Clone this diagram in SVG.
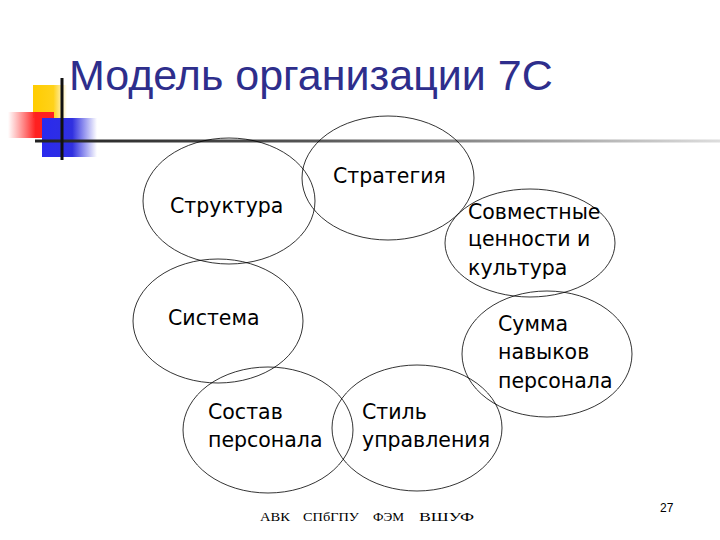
<svg xmlns="http://www.w3.org/2000/svg" width="720" height="540" viewBox="0 0 720 540">
<defs>
<linearGradient id="gy" x1="0" y1="0" x2="1" y2="0"><stop offset="0" stop-color="#ffcc00"/><stop offset="0.6" stop-color="#ffd21a"/><stop offset="1" stop-color="#ffd21a" stop-opacity="0"/></linearGradient>
<linearGradient id="gr" x1="0" y1="0" x2="1" y2="0"><stop offset="0" stop-color="#ff3030" stop-opacity="0"/><stop offset="0.6" stop-color="#ff2020"/><stop offset="1" stop-color="#ff2020"/></linearGradient>
<linearGradient id="gb" x1="0" y1="0" x2="1" y2="0"><stop offset="0" stop-color="#2a2aee"/><stop offset="0.55" stop-color="#3030e0"/><stop offset="1" stop-color="#3030e0" stop-opacity="0"/></linearGradient>
<linearGradient id="gl" x1="0" y1="0" x2="1" y2="0"><stop offset="0" stop-color="#222"/><stop offset="0.4" stop-color="#555"/><stop offset="1" stop-color="#ddd"/></linearGradient>
</defs>
<style>
.e{fill:none;stroke:#000;stroke-width:0.8}
.t{font-family:"DejaVu Sans",Verdana,sans-serif;font-size:20.5px;fill:#000}
.f{font-family:"Liberation Serif","Times New Roman",serif;font-size:13px;fill:#000}
</style>
<rect width="720" height="540" fill="#fff"/>
<g id="decor">
<rect x="33" y="85" width="34" height="33" fill="url(#gy)"/>
<rect x="8" y="112" width="46" height="26" fill="url(#gr)"/>
<rect x="42" y="118" width="55" height="39" fill="url(#gb)"/>
<rect x="35" y="139.5" width="685" height="3" fill="url(#gl)"/>
<rect x="60.5" y="78" width="3" height="82" fill="#111"/>
</g>
<text x="69" y="90" font-family="'Liberation Sans',Arial,sans-serif" font-size="43" fill="#2e2e8c">Модель организации 7С</text>
<g id="connectors"></g>
<g id="struktura"><ellipse class="e" cx="229" cy="201" rx="86" ry="63"/><text class="t" x="170" y="213">Структура</text></g>
<g id="strategiya"><ellipse class="e" cx="388" cy="178" rx="86" ry="62"/><text class="t" x="333" y="183">Стратегия</text></g>
<g id="tsennosti"><ellipse class="e" cx="530" cy="243" rx="85" ry="54"/><text class="t" x="468" y="219">Совместные</text><text class="t" x="468" y="246">ценности и</text><text class="t" x="468" y="275">культура</text></g>
<g id="sistema"><ellipse class="e" cx="218" cy="321" rx="85" ry="62"/><text class="t" x="168" y="325">Система</text></g>
<g id="navyki"><ellipse class="e" cx="547" cy="354" rx="85" ry="63"/><text class="t" x="498" y="331">Сумма</text><text class="t" x="498" y="359">навыков</text><text class="t" x="498" y="388">персонала</text></g>
<g id="sostav"><ellipse class="e" cx="268" cy="430" rx="85" ry="63"/><text class="t" x="208" y="419">Состав</text><text class="t" x="208" y="447">персонала</text></g>
<g id="stil"><ellipse class="e" cx="417" cy="428" rx="85" ry="63"/><text class="t" x="362" y="419">Стиль</text><text class="t" x="362" y="447">управления</text></g>
<text class="f" x="260" y="521" textLength="30" lengthAdjust="spacingAndGlyphs">АВК</text>
<text class="f" x="303" y="521" textLength="56" lengthAdjust="spacingAndGlyphs">СПбГПУ</text>
<text class="f" x="373" y="521" textLength="31" lengthAdjust="spacingAndGlyphs">ФЭМ</text>
<text class="f" x="419" y="521" textLength="55" lengthAdjust="spacingAndGlyphs">ВШУФ</text>
<text x="660" y="512" font-family="'Liberation Sans',Arial,sans-serif" font-size="12" fill="#000">27</text>
</svg>
